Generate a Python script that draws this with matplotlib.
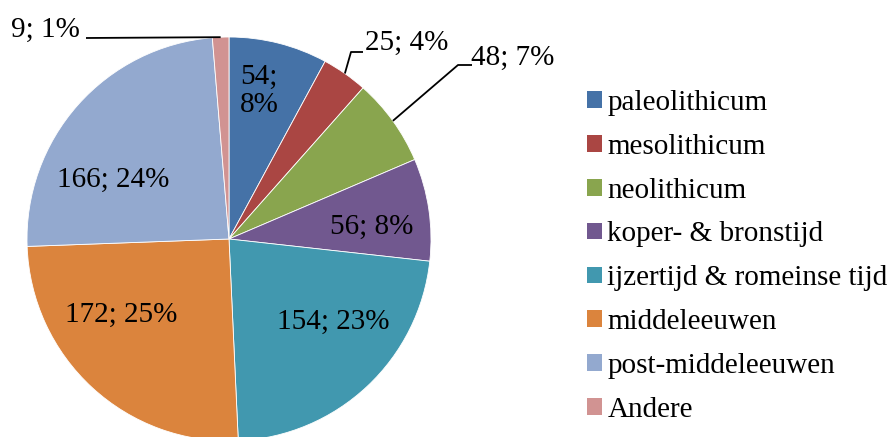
import numpy as np
import matplotlib
matplotlib.use("Agg")
import matplotlib.pyplot as plt

categories = ["paleolithicum", "mesolithicum", "neolithicum", "koper- & bronstijd",
              "ijzertijd & romeinse tijd", "middeleeuwen", "post-middeleeuwen", "Andere"]
values = [54, 25, 48, 56, 154, 172, 166, 9]
colors = ["#4572A7", "#AA4643", "#89A54E", "#71588F", "#4198AF", "#DB843D", "#93A9CF", "#D19392"]

W, H = 893, 437
plt.rcParams["font.family"] = ["Liberation Serif", "DejaVu Serif"]
FS = 21

fig = plt.figure(figsize=(W / 100, H / 100), dpi=100)
ax = fig.add_axes([0, 0, 1, 1])

cx, cy, R = 229, H - 239, 202
wedges, _ = ax.pie(values, colors=colors, startangle=90, counterclock=False,
                   center=(cx, cy), radius=R, frame=True,
                   wedgeprops=dict(edgecolor="white", linewidth=0.6))
ax.set_xlim(0, W)
ax.set_ylim(0, H)
ax.set_aspect("equal")
ax.axis("off")

total = sum(values)
labels = [f"{v}; {round(v / total * 100)}%" for v in values]

# label layout (pixel coords from top-left): (x, y, text override, leader elbow)
layout = {
    0: (259, 91, "54;\n8%", None),
    1: (407, 43, None, [(351, 52), (363, 52)]),
    2: (513, 58, None, [(458, 65), (472, 65)]),
    3: (372, 227, None, None),
    4: (333, 322, None, None),
    5: (121, 315, None, None),
    6: (113, 180, None, None),
    7: (45, 30, None, [(86, 38)]),
}

for i, w in enumerate(wedges):
    x, y, txt, elbow = layout[i]
    t = txt if txt else labels[i]
    ax.text(x, H - y, t, ha="center", va="center", fontsize=FS, color="black",
            linespacing=1.1)
    if elbow:
        ang = np.deg2rad((w.theta1 + w.theta2) / 2)
        sx, sy = cx + R * np.cos(ang), cy + R * np.sin(ang)
        pts = [(sx, sy)] + [(px, H - py) for px, py in elbow]
        xs, ys = zip(*pts)
        ax.plot(xs, ys, color="black", linewidth=1.3, solid_capstyle="butt")

leg = ax.legend(wedges, categories, loc="upper left",
                bbox_to_anchor=(587 / W, (H - 90) / H), bbox_transform=fig.transFigure,
                frameon=False, fontsize=FS, handlelength=0.5, handleheight=0.5,
                handletextpad=0.2, labelspacing=0.61, borderpad=0, borderaxespad=0)
for p in leg.get_patches():
    p.set_edgecolor("none")

fig.savefig("out.png", dpi=100)
